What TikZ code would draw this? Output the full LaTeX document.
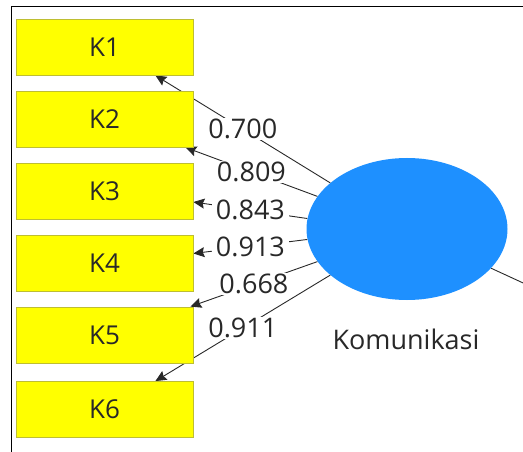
\documentclass[tikz,border=0pt]{standalone}
\usepackage{fontspec}
\setmainfont{Open Sans}
\usetikzlibrary{shapes.geometric,arrows.meta,backgrounds}
\definecolor{itemyellow}{RGB}{255,255,0}
\definecolor{itemedge}{RGB}{190,190,50}
\definecolor{latentblue}{RGB}{30,144,255}
\definecolor{inktext}{RGB}{40,40,40}
\begin{document}
\begin{tikzpicture}[x=1pt,y=-1pt,
    indicator/.style={rectangle, draw=itemedge, fill=itemyellow, line width=0.8pt,
      minimum width=177pt, minimum height=56pt, text=inktext,
      font=\fontsize{26}{30}\selectfont},
    latent/.style={ellipse, fill=latentblue, minimum width=201pt, minimum height=142pt},
    loading/.style={draw=inktext, line width=0.9pt,
      -{Stealth[length=11pt,width=10pt,inset=1.5pt]}},
    weight/.style={fill=white, inner xsep=4pt, inner ysep=1pt, text=inktext,
      font=\fontsize{27}{30}\selectfont}]
  \clip (0,0) rectangle (523,452);
  \draw[line width=1pt] (523,6.5) -- (11.5,6.5) -- (11.5,452);

  % indicators
  \node[indicator] (k1) at (104.5,47) {K1};
  \node[indicator] (k2) at (104.5,119) {K2};
  \node[indicator] (k3) at (104.5,191) {K3};
  \node[indicator] (k4) at (104.5,263.5) {K4};
  \node[indicator] (k5) at (104.5,335) {K5};
  \node[indicator] (k6) at (104.5,409.5) {K6};

  % latent variable
  \node[latent] (kom) at (407,229) {};
  \node[text=inktext, font=\fontsize{27}{30}\selectfont] (komlabel) at (406,339) {Komunikasi};
  \coordinate (offright) at (560,300);

  % outer loadings
  \begin{pgfonlayer}{background}
    \draw[loading] (kom.149) -- node[weight] {0.700} ([xshift=-38pt]k1.south east);
    \draw[loading] (kom.160) -- node[weight] {0.809} ([xshift=-8pt]k2.south east);
    \draw[loading] (kom.174) -- node[weight] {0.843} ([yshift=-11pt]k3.east);
    \draw[loading] (kom.186) -- node[weight] {0.913} ([yshift=10pt]k4.east);
    \draw[loading] (kom.200) -- node[weight] {0.668} ([xshift=-3pt]k5.north east);
    \draw[loading] (kom.211) -- node[weight] {0.911} ([xshift=-38pt]k6.north east);
    \draw[draw=inktext, line width=0.9pt] (kom.335) -- (offright);
  \end{pgfonlayer}
\end{tikzpicture}
\end{document}
